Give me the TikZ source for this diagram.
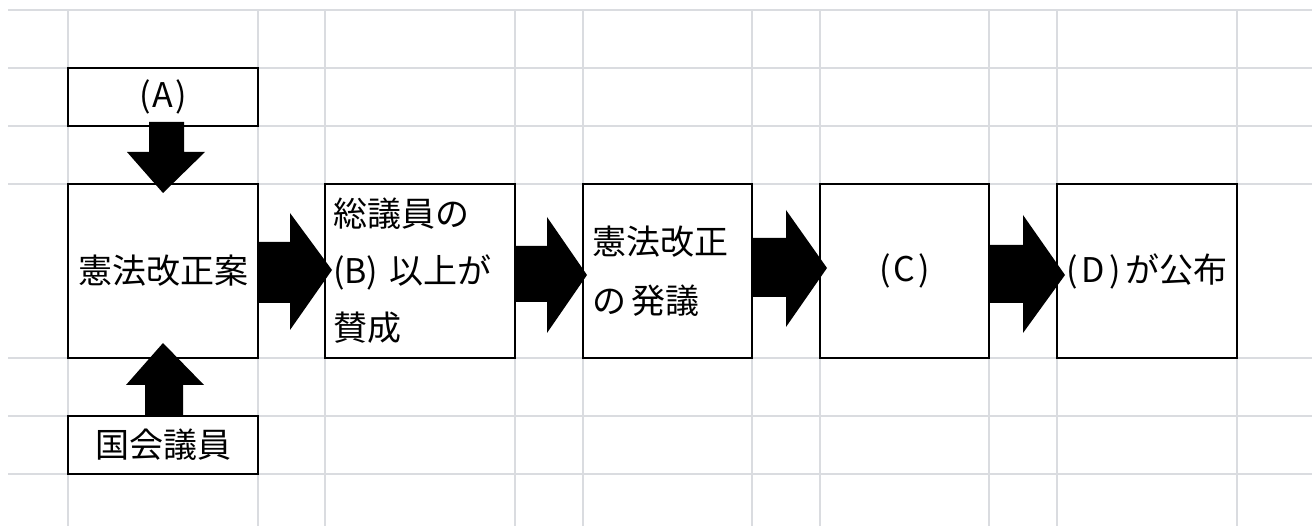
\documentclass[tikz,border=0pt]{standalone}
\usepackage{fontspec}
\setmainfont{Noto Sans CJK JP}
\usetikzlibrary{calc}
\definecolor{gridgray}{RGB}{218,220,224}
\begin{document}
\begin{tikzpicture}[x=1pt,y=-1pt,
  box/.style={draw=black,line width=1.6pt,fill=white,inner sep=0pt,font=\fontsize{34pt}{40pt}\selectfont},
  gridline/.style={draw=gridgray,line width=1.6pt},
  blockarrow/.style={fill=black}]
\useasboundingbox (0,0) rectangle (1312,526);
% spreadsheet grid
\foreach \y in {10,68,126,184,358,416,474} \draw[gridline] (8,\y) -- (1312,\y);
\foreach \x in {68,258,325,515,583,752,820,989,1057,1237} \draw[gridline] (\x,10) -- (\x,526);
% boxes
\node[box,minimum width=190pt,minimum height=58pt] (a) at (163,97) {(\kern2pt A\kern2pt)};
\node[box,minimum width=190pt,minimum height=174pt] (b1) at (163,271) {憲法改正案};
\node[box,minimum width=190pt,minimum height=58pt] (g) at (163,445) {国会議員};
\node[box,minimum width=190pt,minimum height=174pt,text width=174pt,align=left,inner xsep=8pt,
      font=\fontsize{34pt}{57pt}\selectfont] (b2) at (420,271) {総議員の\\(B) 以上が\\賛成};
\node[box,minimum width=169pt,minimum height=174pt,text width=151pt,align=left,inner xsep=9pt,
      font=\fontsize{34pt}{59pt}\selectfont] (b3) at (667.5,271) {憲法改正\\の\kern5pt 発議};
\node[box,minimum width=169pt,minimum height=174pt] (b4) at (904.5,271) {(\kern3pt C\kern3pt)};
\node[box,minimum width=180pt,minimum height=174pt] (b5) at (1147,271) {(\kern4pt D\kern4pt)\kern5pt が公布};
% block arrows
\fill[blockarrow] (a.south |- 0,122) -- (184,122) -- (184,152) -- (205,152) -- (b1.north |- 0,193) -- (127,152) -- (149,152) -- (149,122) -- cycle;
\fill[blockarrow] (183,415) -- (183,385) -- (204,385) -- (b1.south |- 0,343) -- (126,385) -- (145,385) -- (145,415) -- cycle;
\fill[blockarrow] (b1.east |- 0,242) -- (290,242) -- (290,213) -- (332,270) -- (290,330) -- (290,303) -- (b1.east |- 0,303) -- cycle;
\fill[blockarrow] (b2.east |- 0,246) -- (547,246) -- (547,217) -- (587,275) -- (547,333) -- (547,302) -- (b2.east |- 0,302) -- cycle;
\fill[blockarrow] (b3.east |- 0,238) -- (786,238) -- (786,210) -- (827,268) -- (786,327) -- (786,297) -- (b3.east |- 0,297) -- cycle;
\fill[blockarrow] (b4.east |- 0,245) -- (1023,245) -- (1023,215) -- (1065,275) -- (1023,333) -- (1023,303) -- (b4.east |- 0,303) -- cycle;
\end{tikzpicture}
\end{document}
